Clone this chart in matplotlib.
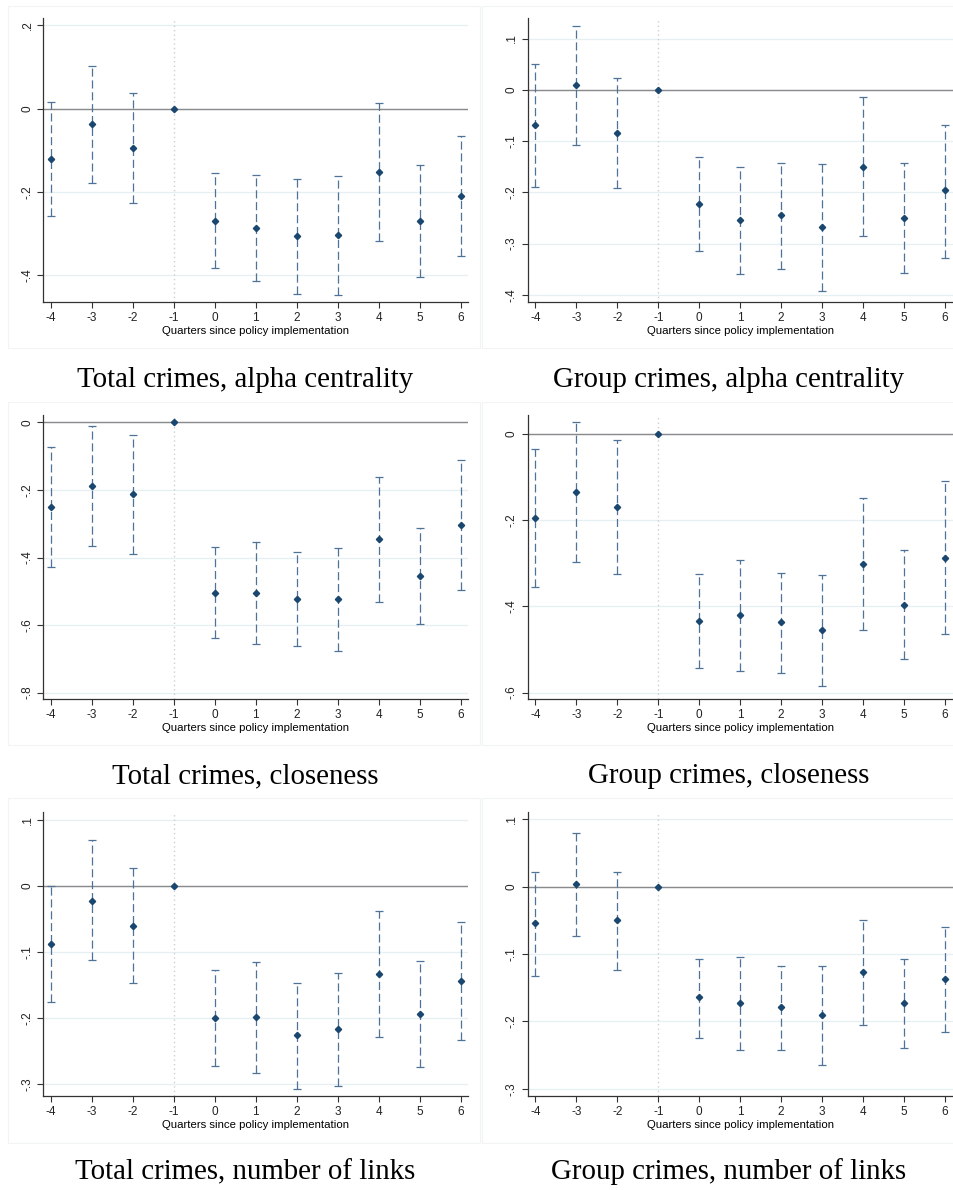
import numpy as np
import matplotlib
matplotlib.use("Agg")
import matplotlib.pyplot as plt
from matplotlib.ticker import FuncFormatter
from matplotlib.patches import Rectangle

plt.rcParams["font.family"] = ["Liberation Sans", "DejaVu Sans"]
plt.rcParams["axes.unicode_minus"] = False

quarters = [-4, -3, -2, -1, 0, 1, 2, 3, 4, 5, 6]
nan = np.nan

# point estimates and 95% bounds, quarter -1 is the omitted reference
total_alpha = [-0.121, -0.037, -0.095, 0.0, -0.269, -0.286, -0.307, -0.303, -0.152, -0.269, -0.209]
total_alpha_lo = [-0.259, -0.178, -0.228, nan, -0.384, -0.414, -0.446, -0.448, -0.318, -0.404, -0.354]
total_alpha_hi = [0.016, 0.103, 0.038, nan, -0.154, -0.160, -0.168, -0.162, 0.013, -0.136, -0.066]

group_alpha = [-0.068, 0.009, -0.084, 0.0, -0.222, -0.254, -0.245, -0.268, -0.150, -0.250, -0.196]
group_alpha_lo = [-0.190, -0.107, -0.191, nan, -0.315, -0.360, -0.349, -0.393, -0.285, -0.357, -0.328]
group_alpha_hi = [0.051, 0.124, 0.023, nan, -0.131, -0.151, -0.142, -0.144, -0.015, -0.142, -0.068]

total_close = [-0.250, -0.187, -0.212, 0.0, -0.504, -0.504, -0.523, -0.523, -0.344, -0.454, -0.303]
total_close_lo = [-0.428, -0.366, -0.390, nan, -0.639, -0.656, -0.662, -0.676, -0.532, -0.598, -0.496]
total_close_hi = [-0.073, -0.012, -0.036, nan, -0.370, -0.353, -0.383, -0.373, -0.161, -0.313, -0.112]

group_close = [-0.194, -0.134, -0.170, 0.0, -0.434, -0.421, -0.437, -0.456, -0.301, -0.396, -0.287]
group_close_lo = [-0.356, -0.297, -0.326, nan, -0.542, -0.549, -0.554, -0.584, -0.456, -0.523, -0.465]
group_close_hi = [-0.034, 0.027, -0.015, nan, -0.326, -0.293, -0.322, -0.327, -0.148, -0.270, -0.109]

total_links = [-0.088, -0.022, -0.060, 0.0, -0.199, -0.198, -0.225, -0.216, -0.133, -0.193, -0.144]
total_links_lo = [-0.176, -0.112, -0.146, nan, -0.272, -0.283, -0.307, -0.303, -0.228, -0.274, -0.233]
total_links_hi = [0.000, 0.069, 0.027, nan, -0.127, -0.115, -0.146, -0.131, -0.038, -0.113, -0.055]

group_links = [-0.054, 0.004, -0.050, 0.0, -0.164, -0.172, -0.179, -0.191, -0.127, -0.173, -0.137]
group_links_lo = [-0.132, -0.073, -0.123, nan, -0.224, -0.242, -0.242, -0.264, -0.205, -0.239, -0.216]
group_links_hi = [0.022, 0.080, 0.021, nan, -0.107, -0.105, -0.117, -0.117, -0.050, -0.108, -0.060]

captions = ["Total crimes, alpha centrality", "Group crimes, alpha centrality",
            "Total crimes, closeness", "Group crimes, closeness",
            "Total crimes, number of links", "Group crimes, number of links"]

panels = [
    (total_alpha, total_alpha_lo, total_alpha_hi, [-0.4, -0.2, 0, 0.2], (-0.465, 0.218)),
    (group_alpha, group_alpha_lo, group_alpha_hi, [-0.4, -0.3, -0.2, -0.1, 0, 0.1], (-0.414, 0.140)),
    (total_close, total_close_lo, total_close_hi, [-0.8, -0.6, -0.4, -0.2, 0], (-0.819, 0.022)),
    (group_close, group_close_lo, group_close_hi, [-0.6, -0.4, -0.2, 0], (-0.615, 0.044)),
    (total_links, total_links_lo, total_links_hi, [-0.3, -0.2, -0.1, 0, 0.1], (-0.317, 0.1125)),
    (group_links, group_links_lo, group_links_hi, [-0.3, -0.2, -0.1, 0, 0.1], (-0.310, 0.111)),
]


def stata_fmt(v, pos):
    s = "%g" % round(v, 2)
    return s.replace("0.", ".") if s != "0" else s


W, H = 954, 1190
fig = plt.figure(figsize=(W / 100, H / 100), dpi=100)
fig.patch.set_facecolor("white")

lefts = [43.3, 527.7]
tops = [18, 415, 811.7]
caption_y = [380, 776, 1172]
caption_x = [245, 729]
box_x = [(8, 480), (482, 960)]
box_y = [(6, 348), (402, 745), (798, 1143)]
ax_w, ax_h = 425, 284

navy = "#1a476f"
ci_col = "#4f7298"

for i, (coef, lo, hi, yticks, ylim) in enumerate(panels):
    r, c = divmod(i, 2)
    # faint frame round each panel
    x0, x1 = box_x[c]
    y0, y1 = box_y[r]
    fig.patches.append(Rectangle((x0 / W, 1 - y1 / H), (x1 - x0) / W, (y1 - y0) / H,
                                 transform=fig.transFigure, fill=False,
                                 edgecolor="#f0f4f4", lw=0.8))

    ax = fig.add_axes([lefts[c] / W, 1 - (tops[r] + ax_h) / H, ax_w / W, ax_h / H])
    coef = np.array(coef)
    lo = np.array(lo)
    hi = np.array(hi)
    q = np.array(quarters)
    ok = ~np.isnan(lo)

    ax.axvline(-1, color="#cfcfcf", lw=1.0, ls=(0, (1, 2.2)), zorder=1)
    ax.axhline(0, color="#8a8a8a", lw=1.0, zorder=2)

    eb = ax.errorbar(q[ok], coef[ok], yerr=[coef[ok] - lo[ok], hi[ok] - coef[ok]],
                     fmt="none", ecolor=ci_col, elinewidth=0.9, capsize=2.6,
                     capthick=0.9, zorder=3)
    eb[2][0].set_linestyle((0, (6.5, 3)))
    ax.plot(q, coef, "D", color=navy, ms=3.2, mec=navy, zorder=4)

    ax.set_xlim(-4.19, 6.19)
    ax.set_ylim(*ylim)
    ax.set_xticks(quarters)
    ax.set_yticks(yticks)
    ax.yaxis.set_major_formatter(FuncFormatter(stata_fmt))
    ax.set_xlabel("Quarters since policy implementation", fontsize=8.2, labelpad=1)

    ax.grid(axis="y", color="#e6eff1", lw=0.9, zorder=0)
    ax.set_axisbelow(True)
    for s in ["top", "right"]:
        ax.spines[s].set_visible(False)
    for s in ["left", "bottom"]:
        ax.spines[s].set_color("#333333")
        ax.spines[s].set_linewidth(0.9)
    ax.tick_params(axis="both", labelsize=8.5, length=4, width=0.8, color="#333333",
                   labelcolor="#222222")
    ax.tick_params(axis="y", labelrotation=90, pad=3)
    for t in ax.get_yticklabels():
        t.set_va("center")

    fig.text(caption_x[c] / W, 1 - caption_y[r] / H, captions[i],
             family="Liberation Serif", fontsize=20.8, ha="center", va="center")

fig.savefig("out.png", dpi=100, facecolor="white")
